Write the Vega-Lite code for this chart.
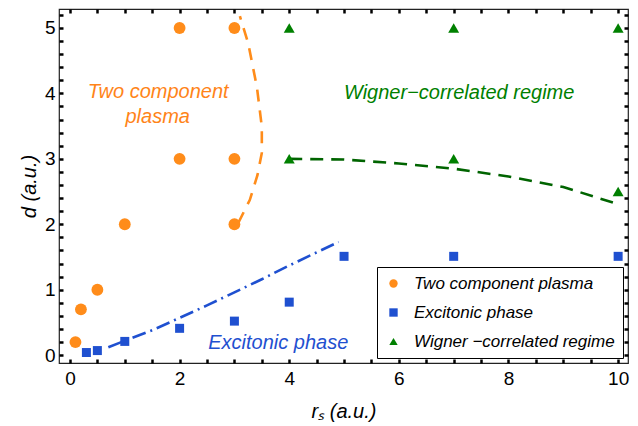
{
  "$schema": "https://vega.github.io/schema/vega-lite/v6.json",
  "width": 569,
  "height": 354,
  "autosize": {"type": "none"},
  "padding": {"left": 59, "top": 9, "right": 10, "bottom": 63},
  "background": "white",
  "config": {
    "view": {"stroke": "#222222", "strokeWidth": 1.2},
    "font": "Liberation Sans",
    "axis": {
      "domain": false,
      "grid": false,
      "ticks": true,
      "tickColor": "#000000",
      "tickWidth": 2.5,
      "tickSize": -4,
      "labelFont": "Liberation Sans",
      "labelFontSize": 19,
      "labelColor": "black",
      "labelOverlap": false,
      "labelFlush": false,
      "labelBound": false,
      "titleFont": "Liberation Sans",
      "titleFontSize": 20,
      "titleFontStyle": "italic",
      "titleFontWeight": "normal",
      "titleColor": "black"
    },
    "legend": {
      "orient": "bottom-right",
      "offset": 5,
      "strokeColor": "black",
      "fillColor": "white",
      "padding": 8,
      "labelFont": "Liberation Sans",
      "labelFontSize": 17,
      "labelFontStyle": "italic",
      "labelColor": "black",
      "labelLimit": 400,
      "symbolSize": 70,
      "symbolStrokeWidth": 0,
      "rowPadding": 11,
      "labelOffset": 12,
      "title": null
    }
  },
  "datasets": {
    "points": [
      {"series": "Two component plasma", "rs": 0.1, "d": 0.2},
      {"series": "Two component plasma", "rs": 0.2, "d": 0.7},
      {"series": "Two component plasma", "rs": 0.5, "d": 1.0},
      {"series": "Two component plasma", "rs": 1, "d": 2},
      {"series": "Two component plasma", "rs": 2, "d": 3},
      {"series": "Two component plasma", "rs": 2, "d": 5},
      {"series": "Two component plasma", "rs": 3, "d": 5},
      {"series": "Two component plasma", "rs": 3, "d": 3},
      {"series": "Two component plasma", "rs": 3, "d": 2},
      {"series": "Excitonic phase", "rs": 0.3, "d": 0.04},
      {"series": "Excitonic phase", "rs": 0.5, "d": 0.07},
      {"series": "Excitonic phase", "rs": 1, "d": 0.21},
      {"series": "Excitonic phase", "rs": 2, "d": 0.41},
      {"series": "Excitonic phase", "rs": 3, "d": 0.52},
      {"series": "Excitonic phase", "rs": 4, "d": 0.81},
      {"series": "Excitonic phase", "rs": 5, "d": 1.51},
      {"series": "Excitonic phase", "rs": 7, "d": 1.51},
      {"series": "Excitonic phase", "rs": 10, "d": 1.51},
      {"series": "Wigner −correlated regime", "rs": 4, "d": 5},
      {"series": "Wigner −correlated regime", "rs": 7, "d": 5},
      {"series": "Wigner −correlated regime", "rs": 10, "d": 5},
      {"series": "Wigner −correlated regime", "rs": 4, "d": 3},
      {"series": "Wigner −correlated regime", "rs": 7, "d": 3},
      {"series": "Wigner −correlated regime", "rs": 10, "d": 2.5}
    ],
    "curves": [
      {"curve": "plasma", "o": 1, "rs": 3.07, "d": 2.02},
      {"curve": "plasma", "o": 2, "rs": 3.28, "d": 2.37},
      {"curve": "plasma", "o": 3, "rs": 3.42, "d": 2.75},
      {"curve": "plasma", "o": 4, "rs": 3.5, "d": 3.09},
      {"curve": "plasma", "o": 5, "rs": 3.5, "d": 3.49},
      {"curve": "plasma", "o": 6, "rs": 3.41, "d": 4.1},
      {"curve": "plasma", "o": 7, "rs": 3.25, "d": 4.77},
      {"curve": "plasma", "o": 8, "rs": 3.1, "d": 5.18},
      {"curve": "wigner", "o": 1, "rs": 4.0, "d": 3.0},
      {"curve": "wigner", "o": 2, "rs": 5, "d": 2.99},
      {"curve": "wigner", "o": 3, "rs": 6, "d": 2.93},
      {"curve": "wigner", "o": 4, "rs": 7, "d": 2.85},
      {"curve": "wigner", "o": 5, "rs": 8, "d": 2.73},
      {"curve": "wigner", "o": 6, "rs": 9, "d": 2.57},
      {"curve": "wigner", "o": 7, "rs": 9.95, "d": 2.32},
      {"curve": "exciton", "o": 1, "rs": 0.7, "d": 0.12},
      {"curve": "exciton", "o": 2, "rs": 1, "d": 0.22},
      {"curve": "exciton", "o": 3, "rs": 1.5, "d": 0.38},
      {"curve": "exciton", "o": 4, "rs": 2, "d": 0.57},
      {"curve": "exciton", "o": 5, "rs": 2.5, "d": 0.76},
      {"curve": "exciton", "o": 6, "rs": 3, "d": 0.96},
      {"curve": "exciton", "o": 7, "rs": 3.5, "d": 1.16},
      {"curve": "exciton", "o": 8, "rs": 4, "d": 1.37},
      {"curve": "exciton", "o": 9, "rs": 4.5, "d": 1.57},
      {"curve": "exciton", "o": 10, "rs": 4.9, "d": 1.73}
    ]
  },
  "layer": [
    {
      "data": {"name": "curves"},
      "transform": [{"filter": "datum.curve == 'plasma'"}],
      "mark": {"type": "line", "color": "#FF8C1A", "strokeWidth": 2.6, "strokeDash": [12, 9]},
      "encoding": {
        "x": {"field": "rs", "type": "quantitative", "scale": {"domain": [-0.2, 10.18], "nice": false, "zero": false},
          "axis": {"orient": "top", "values": [0,0.5,1,1.5,2,2.5,3,3.5,4,4.5,5,5.5,6,6.5,7,7.5,8,8.5,9,9.5,10], "labels": false, "title": null}},
        "y": {"field": "d", "type": "quantitative", "scale": {"domain": [-0.12, 5.29], "nice": false, "zero": false},
          "axis": {"orient": "right", "values": [0,0.2,0.4,0.6,0.8,1,1.2,1.4,1.6,1.8,2,2.2,2.4,2.6,2.8,3,3.2,3.4,3.6,3.8,4,4.2,4.4,4.6,4.8,5,5.2], "labels": false, "title": null}},
        "order": {"field": "o", "type": "quantitative"}
      }
    },
    {
      "data": {"name": "curves"},
      "transform": [{"filter": "datum.curve == 'wigner'"}],
      "mark": {"type": "line", "color": "#006400", "strokeWidth": 2.6, "strokeDash": [13, 8]},
      "encoding": {
        "x": {"field": "rs", "type": "quantitative", "axis": null},
        "y": {"field": "d", "type": "quantitative", "axis": null},
        "order": {"field": "o", "type": "quantitative"}
      }
    },
    {
      "data": {"name": "curves"},
      "transform": [{"filter": "datum.curve == 'exciton'"}],
      "mark": {"type": "line", "color": "#1F50D0", "strokeWidth": 2.6, "strokeDash": [14, 5, 2, 5]},
      "encoding": {
        "x": {"field": "rs", "type": "quantitative", "axis": null},
        "y": {"field": "d", "type": "quantitative", "axis": null},
        "order": {"field": "o", "type": "quantitative"}
      }
    },
    {
      "data": {"name": "points"},
      "transform": [{"filter": "datum.series == 'Two component plasma'"}],
      "mark": {"type": "point", "filled": true, "opacity": 1, "size": 140, "strokeWidth": 0},
      "encoding": {
        "x": {"field": "rs", "type": "quantitative",
          "axis": {"orient": "bottom", "values": [0,0.5,1,1.5,2,2.5,3,3.5,4,4.5,5,5.5,6,6.5,7,7.5,8,8.5,9,9.5,10],
            "labelExpr": "datum.value % 2 == 0 ? format(datum.value, 'd') : ''", "labelPadding": 10, "title": "rₛ (a.u.)", "titlePadding": 13}},
        "y": {"field": "d", "type": "quantitative",
          "axis": {"orient": "left", "values": [0,0.2,0.4,0.6,0.8,1,1.2,1.4,1.6,1.8,2,2.2,2.4,2.6,2.8,3,3.2,3.4,3.6,3.8,4,4.2,4.4,4.6,4.8,5,5.2],
            "labelExpr": "abs(datum.value - round(datum.value)) < 0.001 ? format(round(datum.value), 'd') : ''", "labelPadding": 8, "title": "d (a.u.)", "titlePadding": 5}},
        "color": {"field": "series", "type": "nominal", "scale": {"domain": ["Two component plasma", "Excitonic phase", "Wigner −correlated regime"], "range": ["#FF8C1A", "#1F50D0", "#008000"]}},
        "shape": {"field": "series", "type": "nominal", "scale": {"domain": ["Two component plasma", "Excitonic phase", "Wigner −correlated regime"], "range": ["circle", "square", "triangle-up"]}}
      }
    },
    {
      "data": {"name": "points"},
      "transform": [{"filter": "datum.series == 'Excitonic phase'"}],
      "mark": {"type": "point", "filled": true, "opacity": 1, "size": 81, "strokeWidth": 0},
      "encoding": {
        "x": {"field": "rs", "type": "quantitative", "axis": null},
        "y": {"field": "d", "type": "quantitative", "axis": null},
        "color": {"field": "series", "type": "nominal", "scale": {"domain": ["Two component plasma", "Excitonic phase", "Wigner −correlated regime"], "range": ["#FF8C1A", "#1F50D0", "#008000"]}},
        "shape": {"field": "series", "type": "nominal", "scale": {"domain": ["Two component plasma", "Excitonic phase", "Wigner −correlated regime"], "range": ["circle", "square", "triangle-up"]}}
      }
    },
    {
      "data": {"name": "points"},
      "transform": [{"filter": "datum.series == 'Wigner −correlated regime'"}],
      "mark": {"type": "point", "filled": true, "opacity": 1, "size": 120, "strokeWidth": 0},
      "encoding": {
        "x": {"field": "rs", "type": "quantitative", "axis": null},
        "y": {"field": "d", "type": "quantitative", "axis": null},
        "color": {"field": "series", "type": "nominal", "scale": {"domain": ["Two component plasma", "Excitonic phase", "Wigner −correlated regime"], "range": ["#FF8C1A", "#1F50D0", "#008000"]}},
        "shape": {"field": "series", "type": "nominal", "scale": {"domain": ["Two component plasma", "Excitonic phase", "Wigner −correlated regime"], "range": ["circle", "square", "triangle-up"]}}
      }
    },
    {
      "data": {"values": [
        {"t": "Two component", "rs": 1.61, "d": 3.93},
        {"t": "plasma", "rs": 1.6, "d": 3.55}
      ]},
      "mark": {"type": "text", "color": "#FF8418", "fontSize": 20, "fontStyle": "italic", "font": "Liberation Sans", "align": "center", "baseline": "alphabetic"},
      "encoding": {
        "x": {"field": "rs", "type": "quantitative", "axis": null},
        "y": {"field": "d", "type": "quantitative", "axis": null},
        "text": {"field": "t"}
      }
    },
    {
      "data": {"values": [
        {"t": "Wigner−correlated regime", "rs": 7.1, "d": 3.91}
      ]},
      "mark": {"type": "text", "color": "#007F00", "fontSize": 20, "fontStyle": "italic", "font": "Liberation Sans", "align": "center", "baseline": "alphabetic"},
      "encoding": {
        "x": {"field": "rs", "type": "quantitative", "axis": null},
        "y": {"field": "d", "type": "quantitative", "axis": null},
        "text": {"field": "t"}
      }
    },
    {
      "data": {"values": [
        {"t": "Excitonic phase", "rs": 3.8, "d": 0.087}
      ]},
      "mark": {"type": "text", "color": "#1F50D0", "fontSize": 20, "fontStyle": "italic", "font": "Liberation Sans", "align": "center", "baseline": "alphabetic"},
      "encoding": {
        "x": {"field": "rs", "type": "quantitative", "axis": null},
        "y": {"field": "d", "type": "quantitative", "axis": null},
        "text": {"field": "t"}
      }
    }
  ],
  "resolve": {"axis": {"x": "independent", "y": "independent"}}
}
